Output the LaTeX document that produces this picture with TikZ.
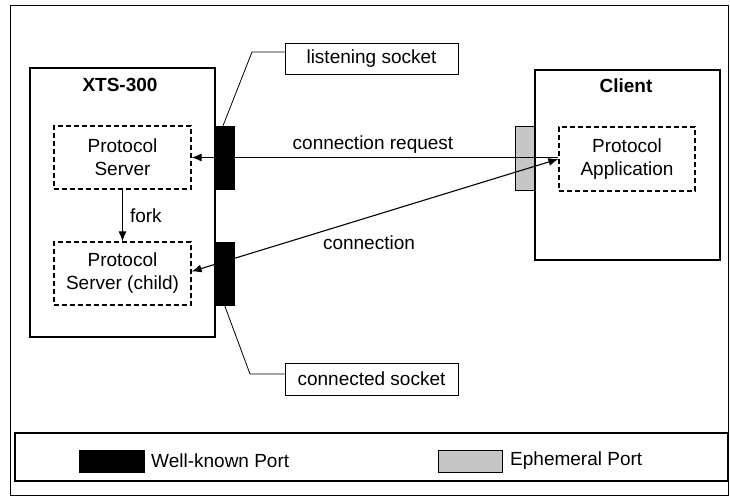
\documentclass[tikz,border=0pt]{standalone}
\usepackage{fontspec}
\setmainfont{Liberation Sans}
\usetikzlibrary{arrows.meta,calc}
\begin{document}
\begin{tikzpicture}[x=1pt,y=-1pt,
  every node/.style={font=\fontsize{19}{23}\selectfont, inner sep=0pt},
  sysbox/.style={draw, line width=1.1pt, minimum width=185pt},
  procbox/.style={draw, dash pattern=on 5pt off 3pt, line width=1.2pt, minimum width=137pt, minimum height=63pt, align=center},
  wport/.style={draw, fill=black, minimum width=19pt, minimum height=63pt},
  eport/.style={draw, fill=gray!45, minimum width=19pt, minimum height=64pt},
  labelbox/.style={draw, line width=0.9pt, minimum width=173pt, minimum height=31pt},
  arr/.style={line width=1.1pt, -{Latex[length=10pt,width=8pt]}},
  leader/.style={line width=0.8pt}
]
\useasboundingbox (0,0) rectangle (730,497);
\node[draw, line width=0.6pt, minimum width=718pt, minimum height=490pt] (frame) at (369,250) {};
\node[draw, line width=2pt, minimum width=713pt, minimum height=48pt] (legend) at (371.5,457) {};

\node[sysbox, minimum height=269pt] (xts) at (122.5,202.5) {};
\node[font=\fontsize{19}{23}\selectfont\bfseries] (xtst) at (120,85) {XTS-300};
\node[sysbox, minimum height=190pt] (client) at (627.5,165) {};
\node[font=\fontsize{19}{23}\selectfont\bfseries] (clientt) at (626,86) {Client};

\node[procbox] (ps) at (122.5,157.5) {Protocol\\Server};
\node[procbox] (psc) at (122.5,273.5) {Protocol\\Server (child)};
\node[procbox, minimum width=136pt, minimum height=64pt] (pa) at (627,159) {Protocol\\Application};

\node[wport] (p1) at (224.5,157.5) {};
\node[wport] (p2) at (224.5,273.5) {};
\node[eport] (ep) at (524.5,158) {};

\node[labelbox] (listen) at (371.5,58.5) {listening socket};
\node[labelbox, minimum height=32pt] (conn) at (371.5,379) {connected socket};

\coordinate (l1) at (252,52);
\coordinate (l2) at (250,374);
\draw[leader] ($(p1.north)+(-1.5,0)$) -- (l1) -- (l1 -| listen.west);
\draw[leader] (p2.south) -- (l2) -- (l2 -| conn.west);

\draw[arr] (ps.south) -- (psc.north) node[midway, right=7pt] (fork) {fork};
\draw[arr, {Latex[length=10pt,width=8pt]}-] (ps.east) -- (ps.east -| pa.west);
\draw[arr, {Latex[length=10pt,width=8pt]}-{Latex[length=10pt,width=8pt]}] ($(psc.east)+(0,-2)$) -- (pa.west);

\node (crq) at (373,145) {connection request};
\node (cn) at (369,243) {connection};

\node[draw, fill=black, minimum width=65pt, minimum height=22pt] (lk1) at (111.5,461) {};
\node[anchor=west] (lt1) at (151,461) {Well-known Port};
\node[draw, fill=gray!45, minimum width=64pt, minimum height=22pt] (lk2) at (470,461) {};
\node[anchor=west] (lt2) at (510,461) {Ephemeral Port};
\end{tikzpicture}
\end{document}
